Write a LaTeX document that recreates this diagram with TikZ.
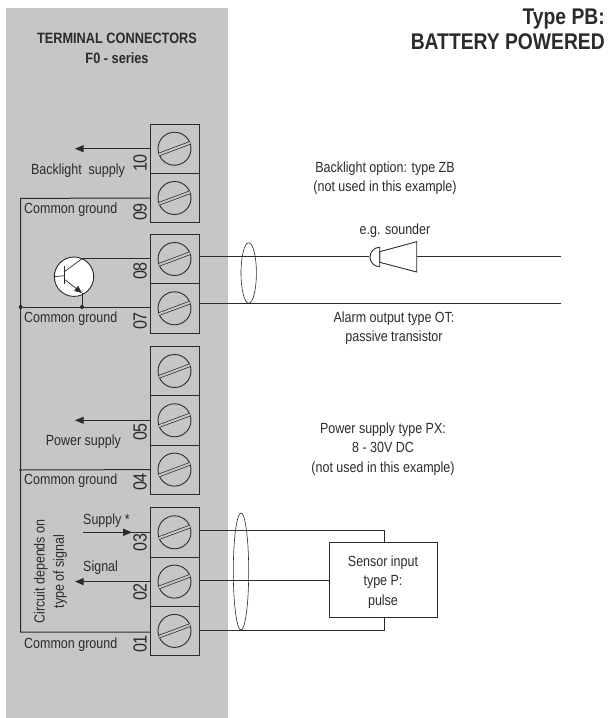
\documentclass[tikz,border=0pt]{standalone}
\usepackage{xcolor}
\usepackage{fontspec}
\usepackage{tikz}
\usetikzlibrary{positioning,arrows}
\usetikzlibrary{decorations.markings}
\setmainfont[FakeStretch=0.85]{Liberation Sans}
\definecolor{panelgrey}{HTML}{C6C6C6}
\definecolor{ink}{HTML}{2B2B2B}
\tikzset{
	terminal/.style={draw=ink, line width=0.9pt, minimum width=49pt, minimum height=49.3pt, inner sep=0pt, outer sep=0pt, path picture={
		\draw[ink, line width=0.9pt] (path picture bounding box.center) circle (16.5);
		\draw[ink, line width=0.7pt, double=panelgrey, double distance=2pt] ([shift={(-15.5,5.8)}]path picture bounding box.center) -- ([shift={(15.5,-5.8)}]path picture bounding box.center);
	}},
	wire/.style={draw=ink, line width=1pt},
	output/.style={wire, -triangle 45},
	input/.style={wire, postaction={decorate}, decoration={markings,mark=at position 0.73 with {\arrow[ink]{triangle 45}}}},
	junction/.style={circle, fill=ink, inner sep=0pt, minimum size=4pt},
	txt/.style={text=ink, align=center, inner sep=0pt, yshift=-1.5pt, font=\fontsize{14.7}{19.3}\selectfont},
	headline/.style={txt, font=\bfseries\fontsize{15}{20}\selectfont},
	title/.style={txt, align=right, font=\bfseries\fontsize{22.7}{25}\selectfont},
	number/.style={text=ink, inner sep=0pt, rotate=90, font=\fontsize{19}{19}\selectfont},
	shield/.style={draw=ink, line width=0.6pt}
}
\begin{document}
\begin{tikzpicture}[x=1pt,y=-1pt]
		\useasboundingbox (0,0) rectangle (608,718);
		\fill[panelgrey] (6,8) rectangle (228,718);

		\node[title, anchor=north east] (title) at (605,7.5) {Type PB:\\BATTERY POWERED};
		\node[headline] (head) at (117,46.5) {TERMINAL CONNECTORS\\F0 - series};

		% terminal blocks
		\node[terminal] (t10) at (174.5,148.7) {};
		\node[terminal, below=0pt of t10] (t09) {};
		\node[terminal] (t08) at (174.5,259) {};
		\node[terminal, below=0pt of t08] (t07) {};
		\node[terminal] (t06) at (174.5,371) {};
		\node[terminal, below=0pt of t06] (t05) {};
		\node[terminal, below=0pt of t05] (t04) {};
		\node[terminal] (t03) at (174.5,532.3) {};
		\node[terminal, below=0pt of t03] (t02) {};
		\node[terminal, below=0pt of t02] (t01) {};

		\node[number] (n10) at (140,163) {10};
		\node[number] (n09) at (140,212) {09};
		\node[number] (n08) at (140,271) {08};
		\node[number] (n07) at (140,321) {07};
		\node[number] (n05) at (140,432) {05};
		\node[number] (n04) at (140,482) {04};
		\node[number] (n03) at (140,542.5) {03};
		\node[number] (n02) at (140,592) {02};
		\node[number] (n01) at (140,644) {01};

		% left side
		\coordinate[left=75pt of t10.west] (backlight);
		\coordinate[left=75pt of t05.west] (power);
		\coordinate[left=75pt of t02.west] (signal);
		\coordinate (supply) at (83,532.3);
		\coordinate (g09) at (20.7,198.4);
		\coordinate (g01) at (20.7,632);
		\coordinate (w01) at (150,632);
		\coordinate (w07) at (150,307);
		\node[junction] (g07) at (20.7,307) {};
		\node[junction] (e07) at (82,307) {};
		\node[junction, minimum size=3pt] (g04) at (20.7,470) {};

		\draw[output] (t10.west) -- (backlight);
		\draw[output] (t05.west) -- (power);
		\draw[output] (t02.west) -- (signal);
		\draw[input] (supply) -- (t03.west);
		\draw[wire] (t09.west) -- (g09) -- (g01) -- (w01);
		\draw[wire] (w07) -- (g07);
		\draw[wire] (t04.west) -- (g04);

		% transistor
		\node[circle, draw=ink, fill=white, line width=0.9pt, minimum size=39.4pt, inner sep=0pt] (tr) at (74,276.7) {};
		\coordinate (bar1) at (64,266);
		\coordinate (bar2) at (64,284);
		\coordinate (base) at (64,275.7);
		\coordinate (coll1) at (64,272);
		\coordinate (coll2) at (82,258.7);
		\coordinate (emit1) at (64,279);
		\coordinate (emit2) at (82,293);
		\coordinate (w08) at (150,258.7);
		\draw[wire] (w08) -- (coll2);
		\draw[wire, line width=0.7pt] (coll2) -- (coll1);
		\draw[wire] (bar1) -- (bar2);
		\draw[wire, line width=0.7pt] (tr.west) -- (base);
		\draw[wire, line width=0.7pt, -triangle 45] (emit1) -- (emit2);
		\draw[wire] (emit2) -- (e07);

		% alarm output with sounder
		\coordinate (a08) at (199,256.7);
		\coordinate (a07) at (199,303);
		\coordinate (s1) at (369,256.7);
		\coordinate (s2) at (416.7,256.7);
		\coordinate (end08) at (561,256.7);
		\coordinate (end07) at (561,303);
		\draw[wire] (a08) -- (s1);
		\draw[wire] (s2) -- (end08);
		\draw[wire] (a07) -- (end07);
		\draw[shield, line width=0.9pt] (379.7,247.3) arc (90:270:9.7 and -9.7) -- cycle;
		\draw[shield, line width=0.9pt] (379.7,251.7) -- (416.7,241.7) -- (416.7,272) -- (379.7,262.3) -- cycle;
		\draw[shield] (248.7,273) ellipse (7.7 and 30.2);

		% sensor
		\node[draw=ink, line width=0.9pt, minimum width=107.7pt, minimum height=74.3pt, inner sep=0pt] (sensor) at (383.2,580) {};
		\node[txt] (sensorname) at (383,580.5) {Sensor input\\type P:\\pulse};
		\coordinate (s03) at (199,530.7);
		\coordinate (s01) at (199,630);
		\coordinate (c03) at (384,530.7);
		\coordinate (c01) at (384,630);
		\coordinate (s02) at (199,580.7);
		\coordinate (in02) at (329.3,580.7);
		\draw[wire] (s03) -- (c03) -- (sensor.north -| c03);
		\draw[wire] (s02) -- (in02);
		\draw[wire] (s01) -- (c01) -- (sensor.south -| c01);
		\draw[shield] (241,571.5) ellipse (7.7 and 58.5);

		% labels
		\node[txt, anchor=east] (l10) at (125,169.5) {Backlight\ \ supply};
		\node[txt, anchor=west] (l09) at (24,208) {Common ground};
		\node[txt, anchor=west] (l07) at (24,317) {Common ground};
		\node[txt, anchor=east] (l05) at (121,440) {Power supply};
		\node[txt, anchor=west] (l04) at (24,479) {Common ground};
		\node[txt, anchor=west] (l03) at (83,519) {Supply *};
		\node[txt, anchor=west] (l02) at (83,566) {Signal};
		\node[txt, anchor=west] (l01) at (24,643) {Common ground};
		\node[txt, rotate=90] (circuit) at (50.5,570) {Circuit depends on\\type of signal};
		\node[txt] (opt) at (385,176.5) {Backlight option: type ZB\\(not used in this example)};
		\node[txt] (snd) at (395,229) {e.g. sounder};
		\node[txt] (alarm) at (394,326.5) {Alarm output type OT:\\passive transistor};
		\node[txt] (psu) at (383,447.5) {Power supply type PX:\\8 - 30V DC\\(not used in this example)};
	\end{tikzpicture}
\end{document}
